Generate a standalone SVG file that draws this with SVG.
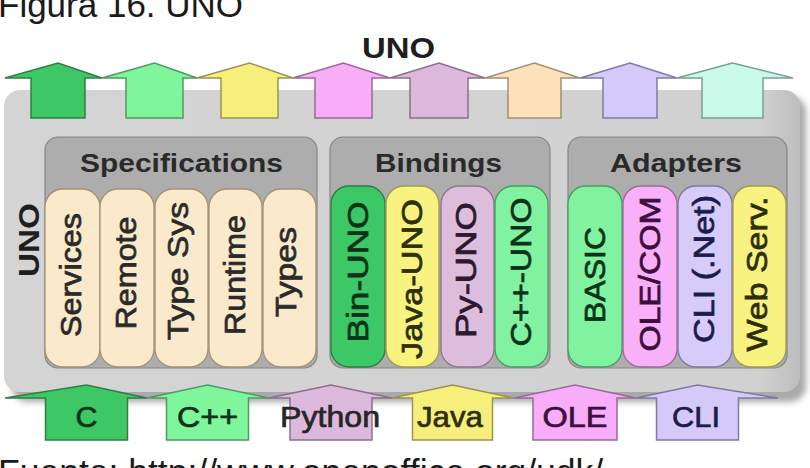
<svg xmlns="http://www.w3.org/2000/svg" width="810" height="468" viewBox="0 0 810 468">
<defs>
  <linearGradient id="boxg" x1="0" y1="0" x2="1" y2="0">
    <stop offset="0" stop-color="#d4d4d4"/>
    <stop offset="0.95" stop-color="#d1d1d1"/>
    <stop offset="1" stop-color="#bdbdbd"/>
  </linearGradient>
  <filter id="blur" x="-5%" y="-5%" width="110%" height="110%">
    <feGaussianBlur stdDeviation="3"/>
  </filter>
</defs>
<style>
  text { font-family: "Liberation Sans", Arial, sans-serif; }
  .cap { font-size: 35px; fill: #1a1a1a; }
  .uno { font-size: 30px; font-weight: bold; fill: #1e1e1e; }
  .hdr { font-size: 26px; font-weight: bold; fill: #2a2a2a; text-anchor: middle; }
  .pl { font-size: 29px; text-anchor: middle; stroke-width: 0.7; }
  .al { font-size: 30px; text-anchor: middle; stroke-width: 0.7; }
  .grp { fill: #adadad; stroke: #858585; stroke-width: 1.2; }
  .pill { stroke-width: 1.3; }
  .arr { stroke-width: 1.5; stroke-linejoin: miter; }
  .spec { fill: #fae9ca; stroke: #a39278; }
  .dark { fill: #2a2a2a; stroke: #2a2a2a; }
</style>

<text class="cap" x="-2" y="17">Figura 16. UNO</text>

<g id="uno-box">
  <rect x="12" y="96" width="794" height="306" rx="16" fill="#a9a9a9" filter="url(#blur)"/>
  <rect x="4" y="90" width="796" height="302" rx="16" fill="url(#boxg)"/>
  <text class="uno" x="398.5" y="58" text-anchor="middle" textLength="73" lengthAdjust="spacingAndGlyphs">UNO</text>
  <text class="uno" transform="translate(39,240) rotate(-90)" text-anchor="middle" textLength="74" lengthAdjust="spacingAndGlyphs">UNO</text>
</g>

<g id="specifications">
  <rect class="grp" x="45" y="137" width="272" height="231" rx="13"/>
  <text class="hdr" x="181.5" y="172" textLength="203" lengthAdjust="spacingAndGlyphs">Specifications</text>
  <g id="services"><rect class="pill spec" x="45" y="189" width="55" height="178" rx="18"/>
    <text class="pl dark" transform="translate(81,275) rotate(-90)" textLength="124" lengthAdjust="spacingAndGlyphs">Services</text></g>
  <g id="remote"><rect class="pill spec" x="100" y="189" width="54" height="178" rx="18"/>
    <text class="pl dark" transform="translate(136,273) rotate(-90)" textLength="113" lengthAdjust="spacingAndGlyphs">Remote</text></g>
  <g id="typesys"><rect class="pill spec" x="155" y="189" width="53" height="178" rx="18"/>
    <text class="pl dark" transform="translate(188,271) rotate(-90)" textLength="138" lengthAdjust="spacingAndGlyphs">Type Sys</text></g>
  <g id="runtime"><rect class="pill spec" x="209" y="189" width="53" height="178" rx="18"/>
    <text class="pl dark" transform="translate(245,275) rotate(-90)" textLength="120" lengthAdjust="spacingAndGlyphs">Runtime</text></g>
  <g id="types"><rect class="pill spec" x="263" y="189" width="53" height="178" rx="18"/>
    <text class="pl dark" transform="translate(296,272) rotate(-90)" textLength="90" lengthAdjust="spacingAndGlyphs">Types</text></g>
</g>

<g id="bindings">
  <rect class="grp" x="330" y="137" width="220" height="231" rx="13"/>
  <text class="hdr" x="438.5" y="172" textLength="127" lengthAdjust="spacingAndGlyphs">Bindings</text>
  <g id="bin-uno"><rect class="pill" x="331" y="186" width="54" height="181" rx="18" fill="#3cc866" stroke="#2b7d43"/>
    <text class="pl" transform="translate(368,272) rotate(-90)" fill="#0c3318" stroke="#0c3318" textLength="141" lengthAdjust="spacingAndGlyphs">Bin-UNO</text></g>
  <g id="java-uno"><rect class="pill" x="386" y="186" width="53" height="181" rx="18" fill="#f8f281" stroke="#a09a50"/>
    <text class="pl" transform="translate(422,279) rotate(-90)" fill="#2e2e08" stroke="#2e2e08" textLength="160" lengthAdjust="spacingAndGlyphs">Java-UNO</text></g>
  <g id="py-uno"><rect class="pill" x="441" y="186" width="53" height="181" rx="18" fill="#dcbddc" stroke="#907490"/>
    <text class="pl" transform="translate(476,270) rotate(-90)" fill="#2e1830" stroke="#2e1830" textLength="136" lengthAdjust="spacingAndGlyphs">Py-UNO</text></g>
  <g id="cpp-uno"><rect class="pill" x="495" y="186" width="53" height="181" rx="18" fill="#80f2a0" stroke="#4c9a62"/>
    <text class="pl" transform="translate(531,272) rotate(-90)" fill="#0c3318" stroke="#0c3318" textLength="149" lengthAdjust="spacingAndGlyphs">C++-UNO</text></g>
</g>

<g id="adapters">
  <rect class="grp" x="568" y="137" width="219" height="231" rx="13"/>
  <text class="hdr" x="676" y="172" textLength="132" lengthAdjust="spacingAndGlyphs">Adapters</text>
  <g id="basic"><rect class="pill" x="568" y="186" width="54" height="181" rx="18" fill="#80f2a0" stroke="#4c9a62"/>
    <text class="pl" transform="translate(605,275) rotate(-90)" fill="#0c3318" stroke="#0c3318" textLength="96" lengthAdjust="spacingAndGlyphs">BASIC</text></g>
  <g id="ole-com"><rect class="pill" x="623" y="186" width="54" height="181" rx="18" fill="#f8b0f8" stroke="#9a6a9a"/>
    <text class="pl" transform="translate(660,274) rotate(-90)" fill="#3c0f3e" stroke="#3c0f3e" textLength="155" lengthAdjust="spacingAndGlyphs">OLE/COM</text></g>
  <g id="cli-net"><rect class="pill" x="678" y="186" width="54" height="181" rx="18" fill="#d7cbf9" stroke="#7e78a2"/>
    <text class="pl" transform="translate(714,269) rotate(-90)" fill="#1c1c4a" stroke="#1c1c4a" textLength="148" lengthAdjust="spacingAndGlyphs">CLI (.Net)</text></g>
  <g id="web-serv"><rect class="pill" x="733" y="186" width="53" height="181" rx="18" fill="#f8f281" stroke="#a09a50"/>
    <text class="pl" transform="translate(767,274) rotate(-90)" fill="#2e2e08" stroke="#2e2e08" textLength="155" lengthAdjust="spacingAndGlyphs">Web Serv.</text></g>
</g>

<g id="connectors">
  <g id="top-arrows">
    <polygon id="up1" class="arr" fill="#3dc865" stroke="#2f7f45" points="5,78 58,63 102,78 85,78 85,118 31,118 31,78"/>
    <polygon id="up2" class="arr" fill="#7ff59c" stroke="#4f9a64" points="102,78 154.5,63 197,78 183,78 183,118 126,118 126,78"/>
    <polygon id="up3" class="arr" fill="#f7ef7c" stroke="#9a9450" points="197,78 249.5,63 293,78 278,78 278,118 221,118 221,78"/>
    <polygon id="up4" class="arr" fill="#f8adf8" stroke="#9a6a9a" points="293,78 343.5,63 390,78 372,78 372,118 315,118 315,78"/>
    <polygon id="up5" class="arr" fill="#dcb9dc" stroke="#8a708a" points="390,78 439,63 485,78 468,78 468,118 410,118 410,78"/>
    <polygon id="up6" class="arr" fill="#fde1bb" stroke="#a09070" points="485,78 534.5,63 580,78 561,78 561,118 508,118 508,78"/>
    <polygon id="up7" class="arr" fill="#d5c9fa" stroke="#7f7aa0" points="580,78 630,63 677,78 657,78 657,118 603,118 603,78"/>
    <polygon id="up8" class="arr" fill="#c9f9e9" stroke="#7aa090" points="677,78 732.5,63 793,78 763,78 763,118 702,118 702,78"/>
  </g>
  <g id="bottom-arrows">
    <g id="lang-c">
      <polygon class="arr" fill="#3dc865" stroke="#2f7f45" points="5,398 86.5,385 147,398 127.5,398 127.5,440 45.5,440 45.5,398"/>
      <text class="al" x="86.5" y="427" fill="#0c3318" stroke="#0c3318" textLength="22" lengthAdjust="spacingAndGlyphs">C</text>
    </g>
    <g id="lang-cpp">
      <polygon class="arr" fill="#7ff59c" stroke="#4f9a64" points="147,398 207.5,385 269,398 248.5,398 248.5,440 166.5,440 166.5,398"/>
      <text class="al" x="207.5" y="427" fill="#0c3318" stroke="#0c3318" textLength="61" lengthAdjust="spacingAndGlyphs">C++</text>
    </g>
    <g id="lang-python">
      <polygon class="arr" fill="#dcb9dc" stroke="#8a708a" points="269,398 331,385 392,398 372,398 372,440 290,440 290,398"/>
      <text class="al" x="330" y="427" fill="#262626" stroke="#262626" textLength="100" lengthAdjust="spacingAndGlyphs">Python</text>
    </g>
    <g id="lang-java">
      <polygon class="arr" fill="#f7ef7c" stroke="#9a9450" points="392,398 452.5,385 514,398 492.5,398 492.5,440 412.5,440 412.5,398"/>
      <text class="al" x="450" y="427" fill="#2e2e08" stroke="#2e2e08" textLength="66" lengthAdjust="spacingAndGlyphs">Java</text>
    </g>
    <g id="lang-ole">
      <polygon class="arr" fill="#f8adf8" stroke="#9a6a9a" points="514,398 575,385 636,398 617,398 617,440 533,440 533,398"/>
      <text class="al" x="575" y="427" fill="#3c0f3e" stroke="#3c0f3e" textLength="65" lengthAdjust="spacingAndGlyphs">OLE</text>
    </g>
    <g id="lang-cli">
      <polygon class="arr" fill="#d5c9fa" stroke="#7f7aa0" points="636,398 697.5,385 778,398 738.5,398 738.5,440 656.5,440 656.5,398"/>
      <text class="al" x="696" y="427" fill="#1c1c4a" stroke="#1c1c4a" textLength="48" lengthAdjust="spacingAndGlyphs">CLI</text>
    </g>
  </g>
</g>

<text class="cap" x="-2" y="484" style="font-size:35.5px">Fuente: http://www.openoffice.org/udk/</text>
</svg>
